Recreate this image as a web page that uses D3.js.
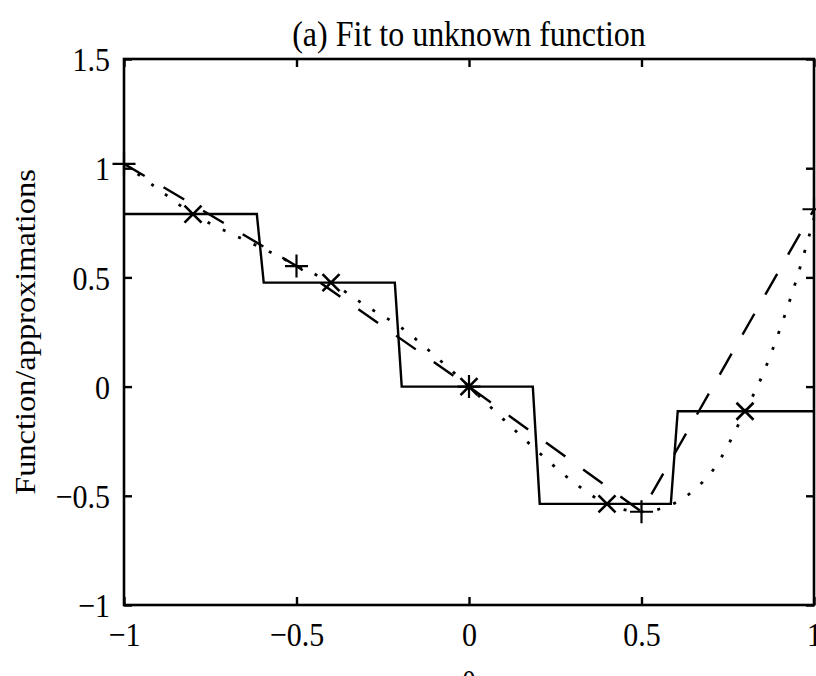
<!DOCTYPE html>
<html><head><meta charset="utf-8">
<script src="https://cdn.jsdelivr.net/npm/d3@7"></script>
<style>
body{margin:0;background:#fff}
text{font-family:"Liberation Serif","Times New Roman",serif;fill:#000}
</style>
</head><body><svg id="c" width="816" height="676"></svg>
<script>
// ---- data ----
const xTickValues = [-1, -0.5, 0, 0.5, 1];
const yTickValues = [-1, -0.5, 0, 0.5, 1, 1.5];
// unknown (true) function, dotted
const trueX = [-1, -0.9, -0.8, -0.7, -0.6, -0.5, -0.4, -0.3, -0.2, -0.1, 0, 0.1, 0.2, 0.3, 0.4, 0.5, 0.6, 0.7, 0.8, 0.85, 0.9, 0.95, 1];
const trueY = [1.02, 0.903, 0.79, 0.708, 0.634, 0.555, 0.476, 0.371, 0.274, 0.143, 0, -0.15, -0.298, -0.434, -0.537, -0.573, -0.53, -0.397, -0.113, 0.05, 0.257, 0.495, 0.77];
// linear-interpolation samples (+), dashed
const linX = [-1, -0.5, 0, 0.5, 1];
const linY = [1.02, 0.552, 0, -0.573, 0.812];
// nearest-neighbour samples (x), solid steps
const nnX = [-0.8, -0.4, 0, 0.4, 0.8];
const nnY = [0.79, 0.476, 0, -0.537, -0.113];
const stepX = [-1, -0.615, -0.595, -0.215, -0.195, 0.185, 0.205, 0.585, 0.605, 1];
const stepY = [0.79, 0.79, 0.476, 0.476, 0, 0, -0.537, -0.537, -0.113, -0.113];
const titleText = "(a) Fit to unknown function";
const yLabelText = "Function/approximations";
const xLabelText = "θ";

// ---- drawing ----
const svg = d3.select("#c");
svg.append("rect").attr("width", 816).attr("height", 676).attr("fill", "#fff");
const x = d3.scaleLinear().domain([-1, 1]).range([124, 814]);
const y = d3.scaleLinear().domain([-1, 1.5]).range([605, 59]);
const fmt = d => (d < 0 ? "\u2212" : "") + Math.abs(d);
const clipId = "plotclip";
svg.append("clipPath").attr("id", clipId).append("rect")
  .attr("x", x(-1)).attr("y", y(1.5)).attr("width", x(1) - x(-1)).attr("height", y(-1) - y(1.5));

const plot = svg.append("g").attr("clip-path", `url(#${clipId})`);
const line = d3.line().x(d => x(d[0])).y(d => y(d[1]));

// step (nearest neighbour)
plot.append("path").datum(stepX.map((v, i) => [v, stepY[i]]))
  .attr("d", line).attr("fill", "none").attr("stroke", "#000").attr("stroke-width", 2.4);
// dashed (linear interpolation)
plot.append("path").datum(linX.map((v, i) => [v, linY[i]]))
  .attr("d", line).attr("fill", "none").attr("stroke", "#000").attr("stroke-width", 2.4)
  .attr("stroke-dasharray", "24,22");
// dotted (true function)
plot.append("path").datum(trueX.map((v, i) => [v, trueY[i]]))
  .attr("d", d3.line().x(d => x(d[0])).y(d => y(d[1])).curve(d3.curveCatmullRom))
  .attr("fill", "none").attr("stroke", "#000").attr("stroke-width", 2.8)
  .attr("stroke-dasharray", "3,14");

// markers
const mk = svg.append("g");
nnX.forEach((v, i) => {
  const cx = x(v), cy = y(nnY[i]), r = 8.5;
  mk.append("path").attr("d", `M${cx - r},${cy - r}L${cx + r},${cy + r}M${cx - r},${cy + r}L${cx + r},${cy - r}`)
    .attr("stroke", "#000").attr("stroke-width", 2.6).attr("fill", "none");
});
linX.forEach((v, i) => {
  const cx = x(v), cy = y(linY[i]), r = 11.5;
  mk.append("path").attr("d", `M${cx - r},${cy}L${cx + r},${cy}M${cx},${cy - r}L${cx},${cy + r}`)
    .attr("stroke", "#000").attr("stroke-width", 2.2).attr("fill", "none");
});

// axes
const tl = -8;
const gx = svg.append("g").attr("transform", `translate(0,${y(-1)})`)
  .call(d3.axisBottom(x).tickValues(xTickValues).tickSize(tl).tickFormat(fmt));
const gxt = svg.append("g").attr("transform", `translate(0,${y(1.5)})`)
  .call(d3.axisTop(x).tickValues(xTickValues).tickSize(tl).tickFormat(""));
const gy = svg.append("g").attr("transform", `translate(${x(-1)},0)`)
  .call(d3.axisLeft(y).tickValues(yTickValues).tickSize(tl).tickFormat(fmt));
const gyr = svg.append("g").attr("transform", `translate(${x(1)},0)`)
  .call(d3.axisRight(y).tickValues(yTickValues).tickSize(tl).tickFormat(""));
[gx, gxt, gy, gyr].forEach(g => {
  g.select(".domain").remove();
  g.selectAll(".tick line").attr("stroke", "#000").attr("stroke-width", 2.4);
  g.attr("font-family", null).attr("font-size", null);
});
gx.selectAll(".tick text").attr("y", 0).attr("dy", null)
  .attr("transform", "translate(0,41) scale(1,1.14)")
  .style("font-size", "30px").attr("fill", "#000");
gy.selectAll(".tick text").attr("x", 0).attr("dy", "0.34em")
  .attr("transform", "translate(-14,0) scale(1,1.14)")
  .style("font-size", "30px").attr("fill", "#000");

svg.append("rect").attr("x", x(-1)).attr("y", y(1.5)).attr("width", x(1) - x(-1)).attr("height", y(-1) - y(1.5))
  .attr("fill", "none").attr("stroke", "#000").attr("stroke-width", 2.6);

svg.append("text").attr("transform", "translate(469,46) scale(1,1.15)").attr("text-anchor", "middle")
  .style("font-size", "32px").text(titleText);
svg.append("text").attr("transform", `translate(35,${(y(1.5) + y(-1)) / 2}) rotate(-90) scale(1.08,1)`)
  .attr("text-anchor", "middle").style("font-size", "30px").text(yLabelText);
svg.append("text").attr("transform", "translate(469,695) scale(1,1.14)").attr("text-anchor", "middle")
  .style("font-size", "30px").text(xLabelText);
</script>
</body></html>
